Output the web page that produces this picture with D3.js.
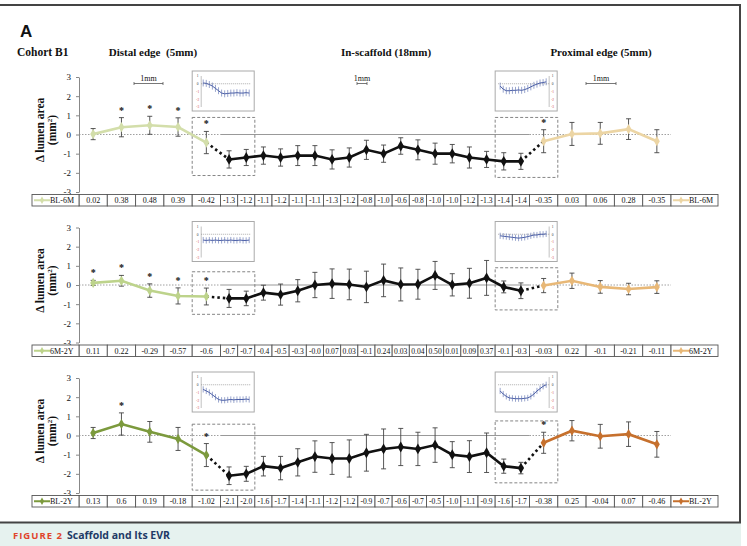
<!DOCTYPE html>
<html>
<head>
<meta charset="utf-8">
<script src="https://cdn.jsdelivr.net/npm/d3@7/dist/d3.min.js"></script>
<style>
  body { margin: 0; background: #fff; }
  svg { display: block; }
  text { font-family: "Liberation Serif", "DejaVu Serif", serif; fill: #111; }
</style>
</head>
<body>
<svg id="chart" width="747" height="546"></svg>
<script>
// ---- data ----
const sectionTitles = ["Distal edge  (5mm)", "In-scaffold (18mm)", "Proximal edge (5mm)"];
const yTicks = [3, 2, 1, 0, -1, -2, -3];
const seriesNames = ["BL-6M", "6M-2Y", "BL-2Y"];

const distalLabels = [
  ["0.02", "0.38", "0.48", "0.39", "-0.42"],
  ["0.11", "0.22", "-0.29", "-0.57", "-0.6"],
  ["0.13", "0.6", "0.19", "-0.18", "-1.02"]
];
const scaffoldLabels = [
  ["-1.3", "-1.2", "-1.1", "-1.2", "-1.1", "-1.1", "-1.3", "-1.2", "-0.8", "-1.0", "-0.6", "-0.8", "-1.0", "-1.0", "-1.2", "-1.3", "-1.4", "-1.4"],
  ["-0.7", "-0.7", "-0.4", "-0.5", "-0.3", "-0.0", "0.07", "0.03", "-0.1", "0.24", "0.03", "0.04", "0.50", "0.01", "0.09", "0.37", "-0.1", "-0.3"],
  ["-2.1", "-2.0", "-1.6", "-1.7", "-1.4", "-1.1", "-1.2", "-1.2", "-0.9", "-0.7", "-0.6", "-0.7", "-0.5", "-1.0", "-1.1", "-0.9", "-1.6", "-1.7"]
];
const proximalLabels = [
  ["-0.35", "0.03", "0.06", "0.28", "-0.35"],
  ["-0.03", "0.22", "-0.1", "-0.21", "-0.11"],
  ["-0.38", "0.25", "-0.04", "0.07", "-0.46"]
];

// half-length of the error bars (estimated)
const distalErr = [
  [0.29, 0.5, 0.47, 0.48, 0.58],
  [0.13, 0.28, 0.35, 0.42, 0.44],
  [0.29, 0.58, 0.54, 0.6, 0.6]
];
const scaffoldErr = [
  [0.45, 0.42, 0.45, 0.45, 0.52, 0.52, 0.5, 0.5, 0.5, 0.45, 0.43, 0.52, 0.55, 0.48, 0.55, 0.42, 0.45, 0.42],
  [0.47, 0.38, 0.39, 0.55, 0.58, 0.66, 0.77, 0.8, 0.82, 0.85, 0.86, 0.78, 0.73, 0.58, 0.78, 0.91, 0.31, 0.41],
  [0.46, 0.39, 0.51, 0.61, 0.71, 0.82, 0.83, 0.97, 0.96, 1.04, 0.97, 0.87, 0.9, 0.68, 0.83, 1.03, 0.37, 0.3]
];
const proximalErr = [
  [0.6, 0.6, 0.57, 0.54, 0.6],
  [0.37, 0.4, 0.33, 0.3, 0.33],
  [0.55, 0.53, 0.62, 0.64, 0.67]
];

// significant points (index within distal / proximal edge)
const distalStars = [[1, 2, 3, 4], [0, 1, 2, 3, 4], [1, 4]];
const proximalStars = [[0], [], [0]];

// dashed box extents around the edge/scaffold junctions (value units)
const distalBox = [[0.89, -2.14], [0.69, -1.53], [0.59, -2.85]];
const proximalBox = [[0.89, -2.24], [0.9, -1.3], [0.76, -2.47]];

// small inset charts
const insetDistal = [
  [0.1, 0.05, -0.1, -0.3, -0.6, -0.9, -1.2, -1.3, -1.25, -1.2, -1.2, -1.15, -1.2, -1.2, -1.15, -1.2],
  [-0.75, -0.8, -0.75, -0.8, -0.75, -0.8, -0.8, -0.75, -0.8, -0.75, -0.8, -0.8, -0.75, -0.8, -0.8, -0.75],
  [-0.6, -0.8, -1.0, -1.3, -1.6, -1.9, -2.0, -2.0, -1.95, -1.9, -1.95, -1.9, -1.9, -1.9, -1.85, -1.9]
];
const insetProximal = [
  [-0.3, -0.7, -0.9, -0.9, -0.85, -0.85, -0.8, -0.85, -0.75, -0.6, -0.4, -0.2, -0.05, 0.1, 0.15, 0.25],
  [-0.2, -0.25, -0.3, -0.35, -0.4, -0.45, -0.5, -0.45, -0.4, -0.3, -0.2, -0.1, -0.1, 0, 0, 0.05],
  [-0.8, -1.2, -1.5, -1.7, -1.75, -1.8, -1.8, -1.8, -1.75, -1.7, -1.5, -1.2, -0.8, -0.5, -0.2, 0.0]
];
const insetErr = [0.45, 0.4, 0.4];
const insetTicks = [1, 0, -1, -2, -3];

const distalColors = ["#d3deaa", "#bdd38b", "#7c9a3d"];
const proximalColors = ["#ecd5a4", "#e8b877", "#c6702d"];

// ---- layout ----
const svg = d3.select("#chart");
const panelTops = [77, 227.5, 378];
const panelH = 115;
const nD = 5, nS = 18, nP = 5;

// cell index -> x (edges are wider than the in-scaffold cells)
const x = d3.scaleLinear()
  .domain([0, nD, nD + nS, nD + nS + nP])
  .range([79, 220.5, 529.5, 671]);

// frame
svg.append("line").attr("x1", 0).attr("x2", 741).attr("y1", 5).attr("y2", 5)
  .attr("stroke", "#444").attr("stroke-width", 2);
svg.append("line").attr("x1", 740).attr("x2", 740).attr("y1", 4).attr("y2", 523)
  .attr("stroke", "#444").attr("stroke-width", 2);
svg.append("rect").attr("x", 0).attr("y", 523).attr("width", 741).attr("height", 23).attr("fill", "#e6f2ef");
svg.append("line").attr("x1", 0).attr("x2", 741).attr("y1", 522.5).attr("y2", 522.5)
  .attr("stroke", "#444").attr("stroke-width", 2);
svg.append("text").attr("x", 13).attr("y", 538.5)
  .style("font-family", "'Open Sans', 'DejaVu Sans', sans-serif").style("font-weight", "700")
  .style("font-size", "9.5px").style("letter-spacing", "1px").style("fill", "#e0452c")
  .text("FIGURE 2");
svg.append("text").attr("x", 67).attr("y", 538.5)
  .style("font-family", "'Open Sans', 'DejaVu Sans', sans-serif").style("font-weight", "700")
  .style("font-size", "10.5px").style("fill", "#1e3a66")
  .text("Scaffold and Its EVR");

// headers
svg.append("text").attr("x", 20).attr("y", 37)
  .style("font-family", "'Liberation Sans', Arial, sans-serif").style("font-weight", "700")
  .style("font-size", "17px").text("A");
svg.append("text").attr("x", 17).attr("y", 56)
  .style("font-weight", "700").style("font-size", "11.5px").text("Cohort B1");
const headerX = [153, 386, 601];
sectionTitles.forEach((t, i) => {
  svg.append("text").attr("x", headerX[i]).attr("y", 56).attr("text-anchor", "middle")
    .style("font-weight", "700").style("font-size", "11px").style("white-space", "pre").text(t);
});

// 1mm scale bars (top panel only)
const scaleBars = [[134, 163], [357, 367], [586, 616]];
scaleBars.forEach(([a, b]) => {
  const g = svg.append("g").attr("stroke", "#555").attr("stroke-width", 0.8);
  g.append("line").attr("x1", a).attr("x2", b).attr("y1", 83.5).attr("y2", 83.5);
  g.append("line").attr("x1", a).attr("x2", a).attr("y1", 82).attr("y2", 85);
  g.append("line").attr("x1", b).attr("x2", b).attr("y1", 82).attr("y2", 85);
  svg.append("text").attr("x", (a + b) / 2).attr("y", 81).attr("text-anchor", "middle")
    .style("font-size", "8px").text("1mm");
});

const diamond = d3.symbol().type(d3.symbolDiamond);

function drawInset(g, x0, y0, values, err, axisRight) {
  const w = 62, h = 40;
  g.append("rect").attr("x", x0).attr("y", y0).attr("width", w).attr("height", h)
    .attr("fill", "#fff").attr("stroke", "#aaa").attr("stroke-width", 1);
  const iy = d3.scaleLinear().domain([-3, 1]).range([y0 + 36, y0 + 5]);
  const axX = axisRight ? x0 + 54 : x0 + 9;
  const ix = d3.scaleLinear().domain([0, values.length - 1])
    .range(axisRight ? [x0 + 5, x0 + 51] : [x0 + 11, x0 + 57]);
  g.append("line").attr("x1", axX).attr("x2", axX).attr("y1", iy(1)).attr("y2", iy(-3))
    .attr("stroke", "#999").attr("stroke-width", 0.6);
  g.append("line").attr("x1", axisRight ? x0 + 3 : axX).attr("x2", axisRight ? axX : x0 + 59)
    .attr("y1", iy(0)).attr("y2", iy(0))
    .attr("stroke", "#777").attr("stroke-width", 0.6).attr("stroke-dasharray", "1,1");
  insetTicks.forEach(t => {
    g.append("text").attr("x", axisRight ? axX + 3.5 : axX - 3.5).attr("y", iy(t) + 1.3)
      .attr("text-anchor", "middle").style("font-size", "3.5px")
      .style("fill", t < 0 ? "#d04848" : "#333").text(t);
  });
  values.forEach((v, i) => {
    g.append("line").attr("x1", ix(i)).attr("x2", ix(i))
      .attr("y1", iy(v + err)).attr("y2", iy(v - err))
      .attr("stroke", "#6f7fb8").attr("stroke-width", 0.7);
  });
  g.append("path").datum(values)
    .attr("d", d3.line().x((d, i) => ix(i)).y(d => iy(d)))
    .attr("fill", "none").attr("stroke", "#4a5ea6").attr("stroke-width", 1);
}

panelTops.forEach((top, p) => {
  const g = svg.append("g");
  const y = d3.scaleLinear().domain([-3, 3]).range([top + panelH, top]);
  const dist = distalLabels[p].map((l, i) => ({ i, v: +l, e: distalErr[p][i] }));
  const scaf = scaffoldLabels[p].map((l, i) => ({ i: nD + i, v: +l, e: scaffoldErr[p][i] }));
  const prox = proximalLabels[p].map((l, i) => ({ i: nD + nS + i, v: +l, e: proximalErr[p][i] }));
  const cx = d => x(d.i + 0.5);

  // y axis
  const axis = d3.axisLeft(y).tickValues(yTicks).tickFormat(d => String(d))
    .tickSize(3).tickSizeOuter(0).tickPadding(5);
  const ag = g.append("g").attr("transform", `translate(${x(0)},0)`).call(axis);
  ag.select(".domain").attr("stroke", "#888");
  ag.selectAll(".tick line").attr("stroke", "#888");
  ag.selectAll(".tick text").style("font-family", "'Liberation Serif', serif")
    .style("font-size", "9px").attr("fill", "#222");

  // axis title
  const tg = g.append("g").attr("transform", `translate(44,${top + 53}) rotate(-90)`);
  tg.append("text").attr("text-anchor", "middle").attr("y", 0)
    .style("font-weight", "700").style("font-size", "11.5px").text("\u0394 lumen area");
  const t2 = tg.append("text").attr("text-anchor", "middle").attr("y", 12)
    .style("font-weight", "700").style("font-size", "11.5px");
  t2.append("tspan").text("(mm");
  t2.append("tspan").attr("dy", -4).style("font-size", "7px").text("2");
  t2.append("tspan").attr("dy", 4).text(")");

  // zero line
  g.append("line").attr("x1", x(0)).attr("x2", x(nD)).attr("y1", y(0)).attr("y2", y(0))
    .attr("stroke", "#888").attr("stroke-width", 0.8).attr("stroke-dasharray", "1.5,1.5");
  g.append("line").attr("x1", x(nD)).attr("x2", x(nD + nS)).attr("y1", y(0)).attr("y2", y(0))
    .attr("stroke", "#999").attr("stroke-width", 1);
  g.append("line").attr("x1", x(nD + nS)).attr("x2", x(nD + nS + nP)).attr("y1", y(0)).attr("y2", y(0))
    .attr("stroke", "#888").attr("stroke-width", 0.8).attr("stroke-dasharray", "1.5,1.5");

  // dashed junction boxes
  const boxes = [[x(nD - 1), x(nD + 2), distalBox[p]], [x(nD + nS - 2), x(nD + nS + 1), proximalBox[p]]];
  boxes.forEach(([a, b, r]) => {
    g.append("rect").attr("x", a).attr("y", y(r[0])).attr("width", b - a).attr("height", y(r[1]) - y(r[0]))
      .attr("fill", "none").attr("stroke", "#777").attr("stroke-width", 0.9).attr("stroke-dasharray", "3,2");
  });

  // insets
  drawInset(g, x(nD - 1), top - 6, insetDistal[p], insetErr[p], false);
  drawInset(g, x(nD + nS - 2), top - 6, insetProximal[p], insetErr[p], true);

  const line = d3.line().x(cx).y(d => y(d.v));

  // dotted connectors
  [[dist[nD - 1], scaf[0]], [scaf[nS - 1], prox[0]]].forEach(pair => {
    g.append("path").datum(pair).attr("d", line).attr("fill", "none")
      .attr("stroke", "#111").attr("stroke-width", 2.6).attr("stroke-dasharray", "2.5,3");
  });

  // series lines
  g.append("path").datum(dist).attr("d", line).attr("fill", "none")
    .attr("stroke", distalColors[p]).attr("stroke-width", 2.6);
  g.append("path").datum(scaf).attr("d", line).attr("fill", "none")
    .attr("stroke", "#111").attr("stroke-width", 2.6);
  g.append("path").datum(prox).attr("d", line).attr("fill", "none")
    .attr("stroke", proximalColors[p]).attr("stroke-width", 2.6);

  // error bars
  const all = dist.concat(scaf, prox);
  const eg = g.append("g").attr("stroke", "#444").attr("stroke-width", 0.9);
  all.forEach(d => {
    const X = cx(d);
    eg.append("line").attr("x1", X).attr("x2", X).attr("y1", y(d.v + d.e)).attr("y2", y(d.v - d.e));
    eg.append("line").attr("x1", X - 2.5).attr("x2", X + 2.5).attr("y1", y(d.v + d.e)).attr("y2", y(d.v + d.e));
    eg.append("line").attr("x1", X - 2.5).attr("x2", X + 2.5).attr("y1", y(d.v - d.e)).attr("y2", y(d.v - d.e));
  });

  // markers
  const mark = (data, color, size) => g.selectAll(null).data(data).enter().append("path")
    .attr("d", diamond.size(size)).attr("transform", d => `translate(${cx(d)},${y(d.v)})`)
    .attr("fill", color);
  mark(dist, distalColors[p], 30);
  mark(scaf, "#111", 34);
  mark(prox, proximalColors[p], 30);

  // stars
  const stars = distalStars[p].map(i => dist[i]).concat(proximalStars[p].map(i => prox[i]));
  stars.forEach(d => {
    g.append("text").attr("x", cx(d)).attr("y", y(d.v + d.e) - 9 + 5).attr("text-anchor", "middle")
      .style("font-weight", "700").style("font-size", "10px").text("*");
  });

  // data table
  const rowY = top + 117.5, rowH = 11.5;
  const tbl = g.append("g");
  const cellData = all.map(d => ({ x0: x(d.i), x1: x(d.i + 1) }));
  const labels = distalLabels[p].concat(scaffoldLabels[p], proximalLabels[p]);
  const legendCells = [{ x0: 32, x1: x(0), color: distalColors[p] }, { x0: x(nD + nS + nP), x1: 718, color: proximalColors[p] }];
  tbl.selectAll(null).data(cellData.concat(legendCells)).enter().append("rect")
    .attr("x", d => d.x0).attr("y", rowY).attr("width", d => d.x1 - d.x0).attr("height", rowH)
    .attr("fill", "#fff").attr("stroke", "#555").attr("stroke-width", 0.9);
  cellData.forEach((c, i) => {
    tbl.append("text").attr("x", (c.x0 + c.x1) / 2).attr("y", rowY + 8.7).attr("text-anchor", "middle")
      .style("font-size", i >= nD && i < nD + nS ? "7.6px" : "8px").text(labels[i]);
  });
  legendCells.forEach(c => {
    tbl.append("line").attr("x1", c.x0 + 2).attr("x2", c.x0 + 18).attr("y1", rowY + rowH / 2).attr("y2", rowY + rowH / 2)
      .attr("stroke", c.color).attr("stroke-width", 2);
    tbl.append("path").attr("d", diamond.size(16)).attr("transform", `translate(${c.x0 + 10},${rowY + rowH / 2})`)
      .attr("fill", c.color);
    tbl.append("text").attr("x", c.x0 + 18).attr("y", rowY + 8.7).style("font-size", "8px").text(seriesNames[p]);
  });
});
</script>
</body>
</html>
